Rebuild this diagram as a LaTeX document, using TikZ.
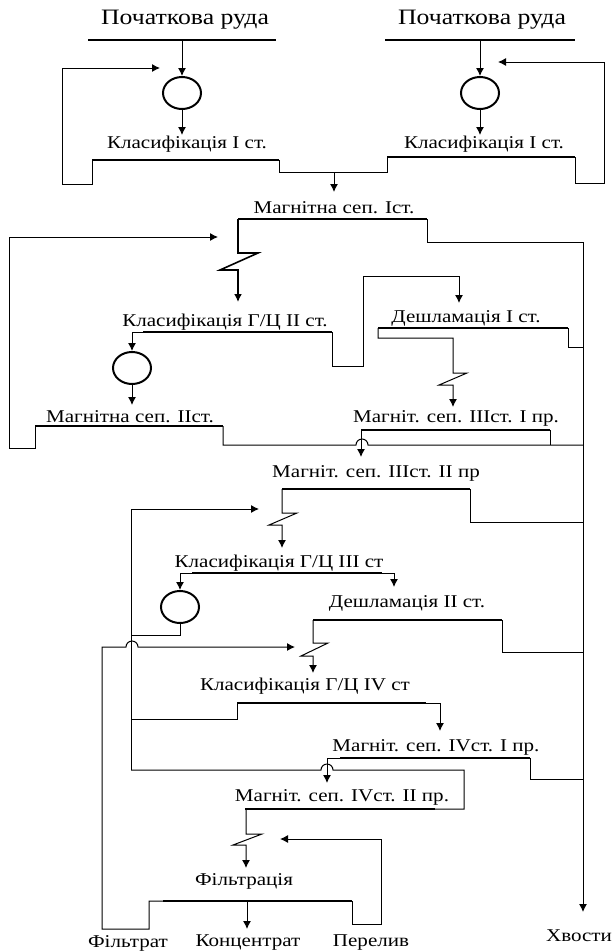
\documentclass[tikz,border=0pt]{standalone}
\usepackage{fontspec}
\setmainfont{Liberation Serif}
\newfontfamily\lblfont[FakeStretch=1.17]{Liberation Serif}
\usetikzlibrary{arrows.meta,shapes.geometric}
\tikzset{
  ln/.style={line width=1pt},
  lnthick/.style={line width=1.6pt},
  bar/.style={line width=2.4pt},
  arr/.style={-{Latex[length=8pt,width=8pt]}},
  mill/.style={draw,ellipse,line width=2pt,minimum width=38pt,minimum height=32pt,inner sep=0pt},
  lbl/.style={inner sep=0pt,font=\lblfont\fontsize{18}{18}\selectfont},
  lblbig/.style={inner sep=0pt,font=\lblfont\fontsize{22}{22}\selectfont},
}
\begin{document}
\begin{tikzpicture}[x=1pt,y=-1pt]
\useasboundingbox (0,0) rectangle (613,951);
% ---------- top left
\node[lblbig] (ore1) at (185,20) {Початкова руда};
\coordinate (o1L) at (88,40); \coordinate (o1R) at (276,40);
\draw[bar] (o1L) -- (o1R);
\node[mill] (m1) at (182,93) {};
\draw[ln,arr] (m1 |- o1L) -- (m1.north);
\coordinate (k1in) at (182,135);
\draw[ln,arr] (m1.south) -- (k1in);
\node[lbl] (k1t) at (187,144) {Класифікація I ст.};
\coordinate (k1L) at (92,160); \coordinate (k1R) at (279,160);
\draw[bar] (k1L) -- (k1R);
\coordinate (fb1) at (160,68);
\draw[ln,arr] (k1L) -- (92,184) -- (62,184) -- (62,68) -- (fb1);
% ---------- top right
\node[lblbig] (ore2) at (482,20) {Початкова руда};
\coordinate (o2L) at (385,40); \coordinate (o2R) at (575,40);
\draw[bar] (o2L) -- (o2R);
\node[mill] (m2) at (480,93) {};
\draw[ln,arr] (m2 |- o2L) -- (m2.north);
\coordinate (k2in) at (480,135);
\draw[ln,arr] (m2.south) -- (k2in);
\node[lbl] (k2t) at (484,144) {Класифікація I ст.};
\coordinate (k2L) at (387,157); \coordinate (k2R) at (575,157);
\draw[bar] (k2L) -- (k2R);
\coordinate (fb2) at (498,62);
\draw[ln,arr] (k2R) -- (575,183) -- (604,183) -- (604,62) -- (fb2);
% join of the two classifiers
\draw[ln] (k1R) -- (279,172) -- (387,172) -- (k2L);
\coordinate (ms1in) at (334,192);
\draw[ln,arr] (334,172) -- (ms1in);
% ---------- Magnetic sep I
\node[lbl] (ms1t) at (334,208) {Магнітна сеп. Іст.};
\coordinate (ms1L) at (238,219); \coordinate (ms1R) at (427,219);
\draw[bar] (ms1L) -- (ms1R);
\coordinate (tl) at (583,242); \coordinate (tails) at (583,912);
\draw[ln] (ms1R) -- (427,242) -- (tl);
\draw[ln,arr] (tl) -- (tails);
\coordinate (kg2in) at (238,302);
\draw[lnthick,arr] (ms1L) -- (238,253) -- (258,253) -- (220,270) -- (238,270) -- (kg2in);
% ---------- Classification G/C II
\node[lbl] (kg2t) at (225,322) {Класифікація Г/Ц II ст.};
\coordinate (kg2L) at (143,332); \coordinate (kg2R) at (332,332);
\draw[bar] (kg2L) -- (kg2R);
\node[mill] (m3) at (132,368) {};
\draw[ln,arr] (kg2L) -- (132,332) -- (m3.north);
\coordinate (ms2in) at (132,405);
\draw[ln,arr] (m3.south) -- (ms2in);
\coordinate (d1in) at (459,303);
\draw[ln,arr] (kg2R) -- (332,366) -- (363,366) -- (363,276) -- (459,276) -- (d1in);
% ---------- Magnetic sep II
\node[lbl] (ms2t) at (130,417) {Магнітна сеп. IIст.};
\coordinate (ms2L) at (35,426); \coordinate (ms2R) at (223,426);
\draw[bar] (ms2L) -- (ms2R);
\coordinate (fb3) at (218,237);
\draw[ln,arr] (ms2L) -- (35,448) -- (9,448) -- (9,237) -- (fb3);
\draw[ln] (ms2R) -- (223,445) -- (356,445) arc[start angle=180,end angle=0,radius=6pt] -- (583,445);
% ---------- Deslaming I
\node[lbl] (d1t) at (466,318) {Дешламація I ст.};
\coordinate (d1L) at (378,328); \coordinate (d1R) at (568,328);
\draw[bar] (d1L) -- (d1R);
\draw[ln] (d1R) -- (568,347) -- (583,347);
\coordinate (ms31in) at (453,407);
\draw[ln,arr] (d1L) -- (378,338) -- (453,338) -- (453,373) -- (467,373) -- (439,385) -- (453,385) -- (ms31in);
% ---------- Magnetic sep III I
\node[lbl] (ms31t) at (456,418) {Магніт. сеп. IIIст. I пр.};
\coordinate (ms31L) at (361,430); \coordinate (ms31R) at (550,430);
\draw[bar] (ms31L) -- (ms31R);
\draw[ln] (ms31R) -- (550,445);
\coordinate (ms32in) at (361,457);
\draw[ln,arr] (ms31L) -- (ms32in);
% ---------- Magnetic sep III II
\node[lbl] (ms32t) at (376,473) {Магніт. сеп. IIIст. II пр};
\coordinate (ms32L) at (282,489); \coordinate (ms32R) at (470,489);
\draw[bar] (ms32L) -- (ms32R);
\draw[ln] (ms32R) -- (470,522) -- (583,522);
\coordinate (kg3in) at (282,548);
\draw[ln,arr] (ms32L) -- (282,513) -- (297,513) -- (269,525) -- (282,525) -- (kg3in);
\coordinate (fb4) at (259,509);
\draw[ln,arr] (131,770) -- (131,509) -- (fb4);
% ---------- Classification G/C III
\node[lbl] (kg3t) at (279,563) {Класифікація Г/Ц III ст};
\coordinate (kg3L) at (192,573); \coordinate (kg3R) at (382,573);
\draw[bar] (kg3L) -- (kg3R);
\coordinate (d2in) at (394,587);
\draw[ln,arr] (kg3R) -- (394,573) -- (d2in);
\node[mill] (m4) at (180,607) {};
\draw[ln,arr] (kg3L) -- (180,573) -- (m4.north);
\draw[ln] (m4.south) -- (180,635) -- (131,635);
% ---------- Deslaming II
\node[lbl] (d2t) at (407,603) {Дешламація II ст.};
\coordinate (d2L) at (313,620); \coordinate (d2R) at (502,620);
\draw[bar] (d2L) -- (d2R);
\draw[ln] (d2R) -- (502,652) -- (583,652);
\coordinate (kg4in) at (313,673);
\draw[ln,arr] (d2L) -- (313,643) -- (328,643) -- (301,656) -- (313,656) -- (kg4in);
% ---------- Classification G/C IV
\node[lbl] (kg4t) at (305,686) {Класифікація Г/Ц IV ст};
\coordinate (kg4L) at (237,703); \coordinate (kg4R) at (426,703);
\draw[bar] (kg4L) -- (kg4R);
\coordinate (ms41in) at (440,731);
\draw[ln,arr] (kg4R) -- (440,703) -- (ms41in);
\draw[ln] (kg4L) -- (237,719) -- (131,719);
% ---------- Magnetic sep IV I
\node[lbl] (ms41t) at (436,747) {Магніт. сеп. IVст. I пр.};
\coordinate (ms41L) at (340,758); \coordinate (ms41R) at (530,758);
\draw[bar] (ms41L) -- (ms41R);
\draw[ln] (ms41R) -- (530,779) -- (583,779);
\coordinate (ms42in) at (327,783);
\draw[ln,arr] (ms41L) -- (327,758) -- (ms42in);
% ---------- Magnetic sep IV II
\node[lbl] (ms42t) at (342,797) {Магніт. сеп. IVст. II пр.};
\coordinate (ms42L) at (245,809); \coordinate (ms42R) at (435,809);
\draw[bar] (ms42L) -- (ms42R);
\draw[ln] (ms42R) -- (464,809) -- (464,770) -- (333,770) arc[start angle=0,end angle=180,radius=6pt] -- (131,770);
\coordinate (fin) at (246,868);
\draw[ln,arr] (246,809) -- (246,834) -- (262,834) -- (233,845) -- (246,845) -- (fin);
% ---------- Filtration
\node[lbl] (ft) at (244,881) {Фільтрація};
\coordinate (fL) at (163,901); \coordinate (fR) at (352,901);
\draw[bar] (fL) -- (fR);
\coordinate (fb5) at (280,839);
\draw[ln,arr] (fR) -- (352,924) -- (381,924) -- (381,839) -- (fb5);
\coordinate (fb6) at (295,647);
\draw[ln,arr] (fL) -- (149,901) -- (149,929) -- (102,929) -- (102,647) -- (126,647) arc[start angle=180,end angle=0,radius=6pt] -- (fb6);
\coordinate (conc) at (247,929);
\draw[ln,arr] (247,901) -- (conc);
% ---------- outputs
\node[lbl] (o_f) at (128,943) {Фільтрат};
\node[lbl] (o_c) at (248,943) {Концентрат};
\node[lbl] (o_p) at (371,943) {Перелив};
\node[lbl] (o_t) at (579,936) {Хвости};
\end{tikzpicture}
\end{document}
